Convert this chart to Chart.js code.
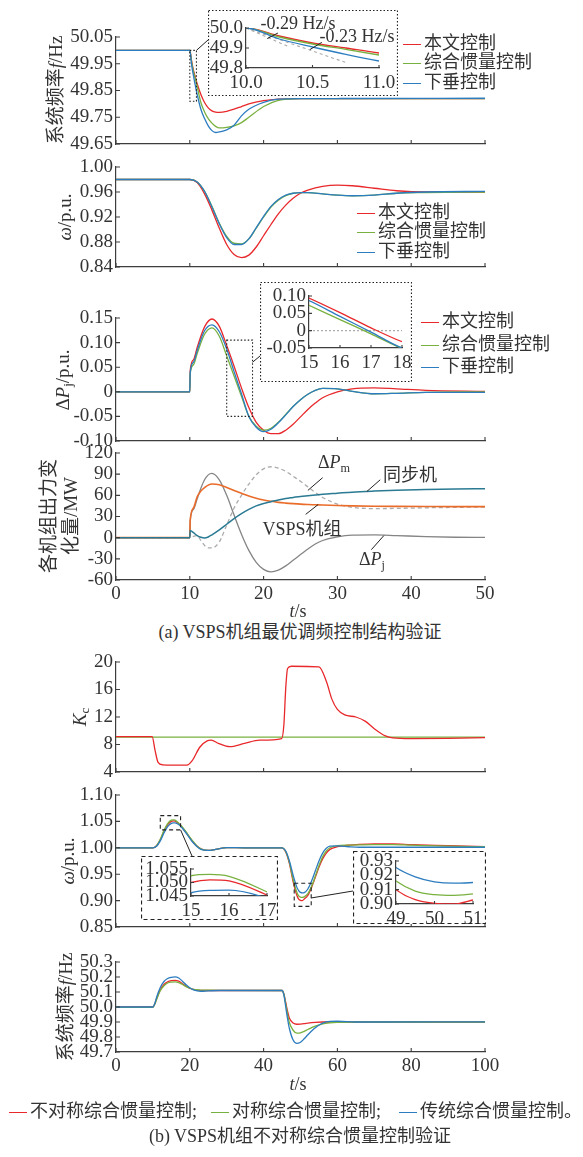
<!DOCTYPE html>
<html>
<head>
<meta charset="utf-8">
<script src="https://cdn.jsdelivr.net/npm/chart.js@4.4.1/dist/chart.umd.min.js"></script>
<style>
  html, body { margin: 0; padding: 0; background: #fff; }
  body { position: relative; width: 583px; height: 1157px; overflow: hidden;
         font-family: "Liberation Serif", "Noto Sans CJK SC", serif; color: #333; font-size: 18px; }
  canvas { position: absolute; }
  .t { position: absolute; white-space: nowrap; line-height: 1; }
  .t sub { font-size: 0.68em; vertical-align: -0.3em; line-height: 0; }
  .ln { display: inline-block; width: 18px; height: 0; border-top: 1.5px solid; vertical-align: middle; margin-right: 3px; }
</style>
</head>
<body>
<script>
// ---------- data ----------
const X_TICKS_A = [0, 10, 20, 30, 40, 50];
const X_LABELS_A = ['0', '10', '20', '30', '40', '50'];
const X_TICKS_B = [0, 20, 40, 60, 80, 100];
const X_LABELS_B = ['0', '20', '40', '60', '80', '100'];

// (a) system frequency
const T1 = [0, 10, 10.25, 10.5, 10.75, 11, 11.5, 12, 12.5, 13, 13.5, 14, 15, 16, 17, 18, 20, 22, 25, 30, 50];
const F1_RED = [50, 50, 49.96, 49.925, 49.9, 49.875, 49.835, 49.805, 49.785, 49.774, 49.769, 49.768, 49.772, 49.78, 49.79, 49.8, 49.812, 49.818, 49.82, 49.82, 49.82];
const F1_GREEN = [50, 50, 49.955, 49.92, 49.893, 49.865, 49.805, 49.77, 49.745, 49.728, 49.716, 49.71, 49.712, 49.718, 49.73, 49.75, 49.79, 49.813, 49.82, 49.82, 49.82];
const F1_BLUE = [50, 50, 49.945, 49.905, 49.868, 49.835, 49.78, 49.745, 49.718, 49.7, 49.693, 49.695, 49.703, 49.72, 49.755, 49.78, 49.806, 49.818, 49.82, 49.82, 49.821];
const F1_TICKS = [49.65, 49.75, 49.85, 49.95, 50.05];
const F1_LABELS = ['49.65', '49.75', '49.85', '49.95', '50.05'];
const IN1_XTICKS = [10, 10.5, 11];
const IN1_XLABELS = ['10.0', '10.5', '11.0'];
const IN1_YTICKS = [49.8, 49.9, 50.0];
const IN1_YLABELS = ['49.8', '49.9', '50.0'];
const TAN029_T = [10, 10.33], TAN029_F = [50.0, 49.904];
const TAN023_T = [10, 10.75], TAN023_F = [50.0, 49.8275];

// (a) rotor speed
const T2 = [0, 10, 11, 12, 13, 14, 15, 16, 17, 18, 19, 20, 21, 22, 23, 24, 25, 26, 28, 30, 32, 35, 38, 42, 50];
const W2_RED = [0.98, 0.98, 0.975, 0.957, 0.931, 0.902, 0.876, 0.86, 0.855, 0.859, 0.872, 0.89, 0.908, 0.925, 0.939, 0.95, 0.958, 0.963, 0.969, 0.971, 0.97, 0.966, 0.962, 0.96, 0.96];
const W2_GREEN = [0.98, 0.98, 0.976, 0.961, 0.937, 0.91, 0.889, 0.878, 0.877, 0.885, 0.902, 0.92, 0.936, 0.947, 0.954, 0.958, 0.959, 0.959, 0.957, 0.955, 0.954, 0.955, 0.958, 0.959, 0.96];
const W2_BLUE = [0.98, 0.98, 0.976, 0.961, 0.936, 0.909, 0.887, 0.876, 0.876, 0.885, 0.903, 0.921, 0.937, 0.948, 0.955, 0.958, 0.959, 0.959, 0.957, 0.955, 0.954, 0.955, 0.958, 0.96, 0.961];
const W2_TICKS = [0.84, 0.88, 0.92, 0.96, 1.0];
const W2_LABELS = ['0.84', '0.88', '0.92', '0.96', '1.00'];

// (a) delta Pj
const T3 = [0, 10, 10.05, 10.5, 11, 12, 13, 14, 15, 16, 17, 18, 19, 20, 21, 22, 23, 24, 25, 26, 27, 28, 30, 32, 35, 38, 42, 50];
const P3_RED = [0, 0, 0.042, 0.065, 0.09, 0.132, 0.148, 0.133, 0.094, 0.052, 0.008, -0.032, -0.062, -0.078, -0.085, -0.085, -0.078, -0.066, -0.051, -0.036, -0.023, -0.012, 0.0, 0.006, 0.008, 0.006, 0.003, 0.001];
const P3_GREEN = [0, 0, 0.036, 0.055, 0.078, 0.117, 0.13, 0.113, 0.073, 0.032, -0.009, -0.05, -0.07, -0.078, -0.074, -0.062, -0.046, -0.03, -0.016, -0.005, 0.003, 0.007, 0.006, 0.001, -0.004, -0.003, -0.001, 0];
const P3_BLUE = [0, 0, 0.038, 0.06, 0.084, 0.124, 0.136, 0.122, 0.087, 0.041, -0.004, -0.05, -0.072, -0.081, -0.076, -0.063, -0.047, -0.03, -0.016, -0.005, 0.003, 0.007, 0.006, 0.001, -0.004, -0.003, -0.001, -0.001];
const P3_TICKS = [-0.1, -0.05, 0, 0.05, 0.1, 0.15];
const P3_LABELS = ['-0.10', '-0.05', '0', '0.05', '0.10', '0.15'];
const IN3_XTICKS = [15, 16, 17, 18];
const IN3_XLABELS = ['15', '16', '17', '18'];
const IN3_YTICKS = [-0.05, 0, 0.05, 0.1];
const IN3_YLABELS = ['-0.05', '0', '0.05', '0.10'];
const ZERO3_T = [15, 18], ZERO3_P = [0, 0];

// (a) unit outputs (MW)
const T4 = [0, 10, 10.05, 10.5, 11, 11.5, 12, 12.5, 13, 14, 15, 16, 17, 18, 19, 20, 21, 22, 23, 24, 25, 26, 27, 28, 30, 32, 35, 38, 42, 46, 50];
const MW_SYNC = [0, 0, 10, 7, 3, 0.5, -0.5, 1, 4, 11, 19, 27, 34, 40, 45, 48.5, 51, 53.5, 55.5, 57, 58.5, 59.5, 60.5, 61.5, 63, 64.5, 66, 67.2, 68.3, 69, 69.5];
const MW_VSPS = [0, 0, 24, 42, 58, 66, 71, 74.5, 76, 75, 71, 67, 63, 59, 56, 53.5, 51.5, 50, 49, 48.2, 47.5, 47, 46.6, 46.2, 45.6, 45.1, 44.6, 44.3, 44.1, 44, 44];
const MW_DPJ = [0, 0, 24, 40, 55, 70, 82, 89, 91, 82, 60, 32, 5, -18, -35, -45, -48.5, -46, -40, -32, -24, -16, -9, -4, 1, 3.5, 4, 3, 1.5, 0.6, 0.3];
const MW_DPM = [0, 0, 0, 2, 3, -4, -11, -14.5, -14.5, -6, 18, 42, 60, 76, 89, 97.5, 100.5, 98.5, 94, 87, 80, 72, 64, 57, 47.5, 43, 41.2, 41.5, 42.3, 43, 43.5];
const MW_TICKS = [-60, -30, 0, 30, 60, 90, 120];
const MW_LABELS = ['-60', '-30', '0', '30', '60', '90', '120'];

// (b) Kc
const T5 = [0, 9.8, 10.6, 11.4, 12.6, 19.2, 20.7, 22.7, 24.7, 25.8, 27.8, 30.8, 34.8, 38.9, 44.9, 45.5, 46, 46.5, 47.5, 55, 57, 58.5, 60, 62, 65, 67.5, 70, 73, 75, 80, 90, 100];
const KC_RED = [9.16, 9.16, 7.1, 5.4, 5.05, 5.0, 5.7, 7.6, 8.54, 8.63, 8.16, 7.68, 8.16, 8.63, 8.87, 10.9, 16.2, 19.05, 19.38, 19.3, 17.2, 14.6, 13.1, 12.3, 12.0, 11.4, 10.3, 9.25, 8.95, 8.85, 8.9, 9.0];
const T5_GREEN = [0, 100];
const KC_GREEN = [9.06, 9.06];
const KC_TICKS = [4, 8, 12, 16, 20];
const KC_LABELS = ['4', '8', '12', '16', '20'];

// (b) rotor speed
const T6 = [0, 10, 11, 12, 13, 14, 15, 15.5, 16, 17, 18, 19, 20, 21, 22, 23, 25, 27, 30, 35, 40, 45, 46, 47, 48, 49, 49.5, 50, 50.5, 51, 52, 53, 54, 55, 56, 57, 58, 60, 63, 66, 70, 75, 80, 90, 100];
const W6_RED = [1.0, 1.0, 1.004, 1.015, 1.031, 1.044, 1.05, 1.051, 1.0506, 1.0453, 1.038, 1.029, 1.019, 1.01, 1.003, 0.998, 0.995, 0.997, 1.0005, 1.0, 1.0, 1.0, 0.992, 0.97, 0.936, 0.91, 0.903, 0.9005, 0.9, 0.9028, 0.91, 0.925, 0.944, 0.963, 0.979, 0.99, 0.997, 1.002, 1.005, 1.0065, 1.0075, 1.0075, 1.006, 1.004, 1.002];
const W6_GREEN = [1.0, 1.0, 1.004, 1.016, 1.033, 1.046, 1.0525, 1.053, 1.0523, 1.0465, 1.039, 1.03, 1.02, 1.011, 1.003, 0.998, 0.995, 0.997, 1.0005, 1.0, 1.0, 1.0, 0.993, 0.972, 0.94, 0.916, 0.909, 0.9065, 0.906, 0.907, 0.913, 0.927, 0.946, 0.966, 0.983, 0.994, 1.0, 1.004, 1.005, 1.0055, 1.006, 1.006, 1.005, 1.003, 1.002];
const W6_BLUE = [1.0, 1.0, 1.003, 1.013, 1.028, 1.04, 1.0462, 1.0471, 1.0472, 1.0441, 1.037, 1.028, 1.018, 1.009, 1.002, 0.997, 0.995, 0.997, 1.0005, 1.0, 1.0, 1.0, 0.994, 0.975, 0.948, 0.9255, 0.919, 0.9155, 0.9145, 0.915, 0.922, 0.937, 0.956, 0.975, 0.99, 0.999, 1.003, 1.0035, 1.002, 1.001, 1.001, 1.001, 1.001, 1.001, 1.001];
const W6_TICKS = [0.85, 0.9, 0.95, 1.0, 1.05, 1.1];
const W6_LABELS = ['0.85', '0.90', '0.95', '1.00', '1.05', '1.10'];
const IN6A_XTICKS = [15, 16, 17], IN6A_XLABELS = ['15', '16', '17'];
const IN6A_YTICKS = [1.045, 1.05, 1.055], IN6A_YLABELS = ['1.045', '1.050', '1.055'];
const IN6B_XTICKS = [49, 50, 51], IN6B_XLABELS = ['49', '50', '51'];
const IN6B_YTICKS = [0.9, 0.91, 0.92, 0.93], IN6B_YLABELS = ['0.90', '0.91', '0.92', '0.93'];

// (b) system frequency
const T7 = [0, 10, 10.5, 11, 12, 13, 14, 15, 16, 17, 18, 19, 20, 21, 22, 23, 25, 28, 45, 45.5, 46, 46.5, 47, 48, 49, 50, 51, 52, 54, 56, 58, 60, 65, 100];
const F7_RED = [50.0, 50.0, 50.02, 50.055, 50.115, 50.15, 50.168, 50.176, 50.178, 50.172, 50.155, 50.138, 50.125, 50.117, 50.113, 50.111, 50.11, 50.11, 50.11, 50.085, 50.03, 49.97, 49.925, 49.893, 49.885, 49.886, 49.889, 49.893, 49.898, 49.9, 49.9, 49.9, 49.9, 49.9];
const F7_GREEN = [49.998, 49.998, 50.018, 50.05, 50.108, 50.142, 50.16, 50.166, 50.168, 50.163, 50.15, 50.136, 50.125, 50.118, 50.115, 50.113, 50.112, 50.111, 50.11, 50.085, 50.02, 49.95, 49.895, 49.845, 49.826, 49.828, 49.838, 49.85, 49.872, 49.888, 49.895, 49.898, 49.9, 49.9];
const F7_BLUE = [50.0, 50.0, 50.022, 50.065, 50.13, 50.17, 50.19, 50.198, 50.201, 50.193, 50.172, 50.148, 50.128, 50.114, 50.107, 50.105, 50.107, 50.11, 50.11, 50.08, 50.0, 49.92, 49.855, 49.78, 49.757, 49.765, 49.788, 49.815, 49.862, 49.893, 49.904, 49.905, 49.9, 49.901];
const F7_TICKS = [49.7, 49.8, 49.9, 50.0, 50.1, 50.2, 50.3];
const F7_LABELS = ['49.7', '49.8', '49.9', '50.0', '50.1', '50.2', '50.3'];

// ---------- style ----------
const RED = '#e8282b', GREEN = '#78b13f', BLUE = '#2c7cc0';
const TEAL = '#2a7a93', ORANGE = '#ea6c2a', GRAY = '#858585', LGRAY = '#ababab';
const AX = '#3d3d3d', TXT = '#333';
const FONT = '"Liberation Serif", "Noto Sans CJK SC", serif';

function series(xs, ys, color, extra) {
  return Object.assign({
    data: xs.map((x, i) => ({x: x, y: ys[i]})),
    borderColor: color, borderWidth: 1.3, pointRadius: 0,
    cubicInterpolationMode: 'monotone', fill: false
  }, extra || {});
}

// size = room given to the axis (label band), so labels are not clipped
function axisOpt(a, horiz, size) {
  return {
    type: 'linear', min: a.min, max: a.max,
    grid: {display: false, drawTicks: false},
    border: {display: true, color: AX, width: 1.2},
    afterBuildTicks: s => { s.ticks = a.ticks.map(v => ({value: v})); },
    afterFit: s => {
      if (horiz) s.height = size; else s.width = size;
      s.paddingLeft = s.paddingRight = s.paddingTop = s.paddingBottom = 0;
    },
    ticks: {
      display: !!a.labels, padding: a.pad || 3, color: TXT, autoSkip: false, maxRotation: 0,
      font: {family: FONT, size: a.size || 19},
      callback: (v, i) => a.labels ? a.labels[i] : ''
    }
  };
}

function drawTicks(chart, len) {
  const {ctx, chartArea: a, scales: {x, y}} = chart;
  ctx.save();
  ctx.strokeStyle = AX; ctx.lineWidth = 1.1;
  ctx.beginPath();
  x.ticks.forEach(t => { const p = x.getPixelForValue(t.value); ctx.moveTo(p, a.bottom); ctx.lineTo(p, a.bottom - len); });
  y.ticks.forEach(t => { const p = y.getPixelForValue(t.value); ctx.moveTo(a.left, p); ctx.lineTo(a.left + len, p); });
  ctx.stroke();
  ctx.restore();
}

function makeChart(box, area, cfg) {
  const cv = document.createElement('canvas');
  cv.width = box.w; cv.height = box.h;
  cv.style.left = box.x + 'px'; cv.style.top = box.y + 'px';
  document.body.appendChild(cv);
  const toC = (px, py) => [px - box.x, py - box.y];
  const yw = area.l - box.x, xh = box.y + box.h - area.b;
  return new Chart(cv.getContext('2d'), {
    type: 'line',
    data: {datasets: cfg.datasets},
    options: {
      responsive: false, animation: false, events: [],
      layout: {padding: {left: 0, top: area.t - box.y, right: box.x + box.w - area.r, bottom: 0}},
      plugins: {legend: {display: false}, tooltip: {enabled: false}},
      scales: {x: axisOpt(cfg.x, true, xh), y: axisOpt(cfg.y, false, yw)}
    },
    plugins: [{
      id: 'deco',
      beforeDraw(chart) {
        if (!cfg.frame) return;
        chart.ctx.save(); chart.ctx.fillStyle = '#fff'; chart.ctx.fillRect(0, 0, box.w, box.h); chart.ctx.restore();
      },
      afterDraw(chart) {
        const ctx = chart.ctx;
        drawTicks(chart, cfg.frame ? 3 : 4);
        if (cfg.frame) {
          ctx.save(); ctx.strokeStyle = '#222'; ctx.lineWidth = 1.2; ctx.setLineDash(cfg.frame);
          ctx.strokeRect(0.5, 0.5, box.w - 1, box.h - 1); ctx.restore();
        }
        if (cfg.extra) {
          const P = (x, y) => [chart.scales.x.getPixelForValue(x), chart.scales.y.getPixelForValue(y)];
          cfg.extra(ctx, P, toC);
        }
      }
    }]
  });
}

function rectD(ctx, P, r, dash) {
  const [x0, y0] = P(r[0], r[3]), [x1, y1] = P(r[1], r[2]);
  ctx.save(); ctx.strokeStyle = '#222'; ctx.lineWidth = 1.1; ctx.setLineDash(dash);
  ctx.strokeRect(x0, y0, x1 - x0, y1 - y0); ctx.restore();
}
function seg(ctx, a, b) {
  ctx.save(); ctx.strokeStyle = '#222'; ctx.lineWidth = 1; ctx.beginPath();
  ctx.moveTo(a[0], a[1]); ctx.lineTo(b[0], b[1]); ctx.stroke(); ctx.restore();
}

const DOT = [1.5, 2], DASH = [4, 3];

// ---------- (a) panel 1 ----------
makeChart({x: 0, y: 25, w: 583, h: 125}, {l: 116, t: 37, r: 485, b: 144}, {
  datasets: [series(T1, F1_BLUE, BLUE), series(T1, F1_GREEN, GREEN), series(T1, F1_RED, RED)],
  x: {min: 0, max: 50, ticks: X_TICKS_A},
  y: {min: 49.65, max: 50.05, ticks: F1_TICKS, labels: F1_LABELS},
  extra(ctx, P, toC) {
    rectD(ctx, P, [10, 10.9, 49.81, 50.0], DOT);
    seg(ctx, P(10.9, 50.0), toC(208, 40));
  }
});
makeChart({x: 208, y: 10, w: 190, h: 86}, {l: 246, t: 28, r: 379, b: 68}, {
  frame: DOT,
  datasets: [series(T1, F1_BLUE, BLUE), series(T1, F1_GREEN, GREEN), series(T1, F1_RED, RED),
    series(TAN029_T, TAN029_F, LGRAY, {borderDash: [3, 3], borderWidth: 1.1}),
    series(TAN023_T, TAN023_F, LGRAY, {borderDash: [3, 3], borderWidth: 1.1})],
  x: {min: 10, max: 11, ticks: IN1_XTICKS, labels: IN1_XLABELS, pad: 4},
  y: {min: 49.8, max: 50.0, ticks: IN1_YTICKS, labels: IN1_YLABELS},
  extra(ctx, P) {
    seg(ctx, P(10.16, 49.947), P(10.24, 49.975));
    seg(ctx, P(10.48, 49.892), P(10.57, 49.928));
  }
});

// ---------- (a) panel 2 ----------
makeChart({x: 0, y: 155, w: 583, h: 117}, {l: 116, t: 167, r: 485, b: 267}, {
  datasets: [series(T2, W2_BLUE, BLUE), series(T2, W2_GREEN, GREEN), series(T2, W2_RED, RED)],
  x: {min: 0, max: 50, ticks: X_TICKS_A},
  y: {min: 0.84, max: 1.0, ticks: W2_TICKS, labels: W2_LABELS}
});

// ---------- (a) panel 3 ----------
makeChart({x: 0, y: 306, w: 583, h: 140}, {l: 116, t: 318, r: 485, b: 441}, {
  datasets: [series(T3, P3_BLUE, BLUE), series(T3, P3_GREEN, GREEN), series(T3, P3_RED, RED)],
  x: {min: 0, max: 50, ticks: X_TICKS_A},
  y: {min: -0.1, max: 0.15, ticks: P3_TICKS, labels: P3_LABELS},
  extra(ctx, P, toC) {
    rectD(ctx, P, [15, 18.5, -0.05, 0.105], DOT);
    seg(ctx, P(18.5, 0.06), toC(260, 356));
  }
});
makeChart({x: 260, y: 282, w: 152, h: 100}, {l: 309, t: 296, r: 402, b: 348}, {
  frame: DOT,
  datasets: [series(T3, P3_BLUE, BLUE), series(T3, P3_GREEN, GREEN), series(T3, P3_RED, RED),
    series(ZERO3_T, ZERO3_P, LGRAY, {borderDash: [2, 2], borderWidth: 1.1})],
  x: {min: 15, max: 18, ticks: IN3_XTICKS, labels: IN3_XLABELS, pad: 4},
  y: {min: -0.05, max: 0.1, ticks: IN3_YTICKS, labels: IN3_YLABELS}
});

// ---------- (a) panel 4 ----------
makeChart({x: 0, y: 440, w: 583, h: 170}, {l: 116, t: 453, r: 485, b: 580}, {
  datasets: [series(T4, MW_SYNC, TEAL, {borderWidth: 1.5}), series(T4, MW_VSPS, ORANGE, {borderWidth: 1.6}),
    series(T4, MW_DPJ, GRAY), series(T4, MW_DPM, LGRAY, {borderDash: [4, 3]})],
  x: {min: 0, max: 50, ticks: X_TICKS_A, labels: X_LABELS_A, pad: 3},
  y: {min: -60, max: 120, ticks: MW_TICKS, labels: MW_LABELS},
  extra(ctx, P) {
    seg(ctx, P(26.0, 67), P(28.0, 85));
    seg(ctx, P(34.0, 65.5), P(35.8, 82));
    seg(ctx, P(25.7, 33), P(27.4, 47));
    seg(ctx, P(34.6, -17), P(36.3, 3));
  }
});

// ---------- (b) panel 5 ----------
makeChart({x: 0, y: 650, w: 583, h: 127}, {l: 116, t: 662, r: 485, b: 772}, {
  datasets: [series(T5, KC_RED, RED), series(T5_GREEN, KC_GREEN, GREEN)],
  x: {min: 0, max: 100, ticks: X_TICKS_B},
  y: {min: 4, max: 20, ticks: KC_TICKS, labels: KC_LABELS}
});

// ---------- (b) panel 6 ----------
makeChart({x: 0, y: 783, w: 583, h: 149}, {l: 116, t: 795, r: 485, b: 927}, {
  datasets: [series(T6, W6_BLUE, BLUE), series(T6, W6_GREEN, GREEN), series(T6, W6_RED, RED)],
  x: {min: 0, max: 100, ticks: X_TICKS_B},
  y: {min: 0.85, max: 1.1, ticks: W6_TICKS, labels: W6_LABELS},
  extra(ctx, P, toC) {
    rectD(ctx, P, [12, 17.5, 1.034, 1.061], DASH);
    rectD(ctx, P, [48.3, 52.9, 0.889, 0.933], DASH);
    seg(ctx, P(17.5, 1.034), toC(192, 856));
    seg(ctx, P(52.9, 0.905), toC(353, 891));
  }
});
makeChart({x: 141, y: 856, w: 137, h: 64}, {l: 191, t: 869, r: 267, b: 896}, {
  frame: DASH,
  datasets: [series(T6, W6_BLUE, BLUE), series(T6, W6_GREEN, GREEN), series(T6, W6_RED, RED)],
  x: {min: 15, max: 17, ticks: IN6A_XTICKS, labels: IN6A_XLABELS, pad: 4},
  y: {min: 1.045, max: 1.055, ticks: IN6A_YTICKS, labels: IN6A_YLABELS}
});
makeChart({x: 353, y: 851, w: 133, h: 73}, {l: 396, t: 861, r: 473, b: 904}, {
  frame: DASH,
  datasets: [series(T6, W6_BLUE, BLUE), series(T6, W6_GREEN, GREEN), series(T6, W6_RED, RED)],
  x: {min: 49, max: 51, ticks: IN6B_XTICKS, labels: IN6B_XLABELS, pad: 4},
  y: {min: 0.9, max: 0.93, ticks: IN6B_YTICKS, labels: IN6B_YLABELS}
});

// ---------- (b) panel 7 ----------
makeChart({x: 0, y: 950, w: 583, h: 130}, {l: 116, t: 962, r: 485, b: 1052}, {
  datasets: [series(T7, F7_BLUE, BLUE), series(T7, F7_GREEN, GREEN), series(T7, F7_RED, RED)],
  x: {min: 0, max: 100, ticks: X_TICKS_B, labels: X_LABELS_B, pad: 3},
  y: {min: 49.7, max: 50.3, ticks: F7_TICKS, labels: F7_LABELS}
});

// ---------- texts ----------
function txt(html, x, y, o) {
  o = o || {};
  const d = document.createElement('div');
  d.className = 't';
  d.innerHTML = html;
  d.style.left = x + 'px';
  d.style.top = y + 'px';
  d.style.transform = 'translate(' + (o.left ? '0' : '-50%') + ',-50%)' + (o.rot ? ' rotate(-90deg)' : '');
  if (o.css) d.style.cssText += o.css;
  document.body.appendChild(d);
}
function entry(color, label, x, y) {
  txt('<span class="ln" style="border-color:' + color + '"></span>' + label, x, y, {left: true});
}

// y titles
txt('系统频率<i>f</i>/Hz', 55, 90, {rot: true, css: 'font-size:19px;'});
txt('<i>ω</i>/p.u.', 64, 217, {rot: true, css: 'font-size:19px;'});
txt('Δ<i>P</i><sub>j</sub>/p.u.', 62, 380, {rot: true, css: 'font-size:19px;'});
txt('各机组出力变<br>化量/MW', 60, 516, {rot: true, css: 'font-size:19px;text-align:center;line-height:22px;'});
txt('<i>K</i><sub>c</sub>', 79, 717, {rot: true, css: 'font-size:19px;'});
txt('<i>ω</i>/p.u.', 67, 861, {rot: true, css: 'font-size:19px;'});
txt('系统频率<i>f</i>/Hz', 65, 1007, {rot: true, css: 'font-size:19px;'});

// legends (a)
entry(RED, '本文控制', 403, 43);
entry(GREEN, '综合惯量控制', 403, 62);
entry(BLUE, '下垂控制', 403, 82);
entry(RED, '本文控制', 357, 212);
entry(GREEN, '综合惯量控制', 357, 231);
entry(BLUE, '下垂控制', 357, 251);
entry(RED, '本文控制', 421, 321);
entry(GREEN, '综合惯量控制', 421, 344);
entry(BLUE, '下垂控制', 421, 366);

// inset 1 slopes
txt('-0.29 Hz/s', 298, 23);
txt('-0.23 Hz/s', 357, 36);

// panel 4 notes
txt('Δ<i>P</i><sub>m</sub>', 334, 462);
txt('同步机', 410, 475);
txt('VSPS机组', 302, 529);
txt('Δ<i>P</i><sub>j</sub>', 372, 559);

// x titles and captions
txt('<i>t</i>/s', 298, 611);
txt('(a) VSPS机组最优调频控制结构验证', 300, 632);
txt('<i>t</i>/s', 298, 1084);
entry(RED, '不对称综合惯量控制;', 9, 1111);
entry(GREEN, '对称综合惯量控制;', 211, 1111);
entry(BLUE, '传统综合惯量控制。', 399, 1111);
txt('(b) VSPS机组不对称综合惯量控制验证', 300, 1136);
</script>
</body>
</html>
